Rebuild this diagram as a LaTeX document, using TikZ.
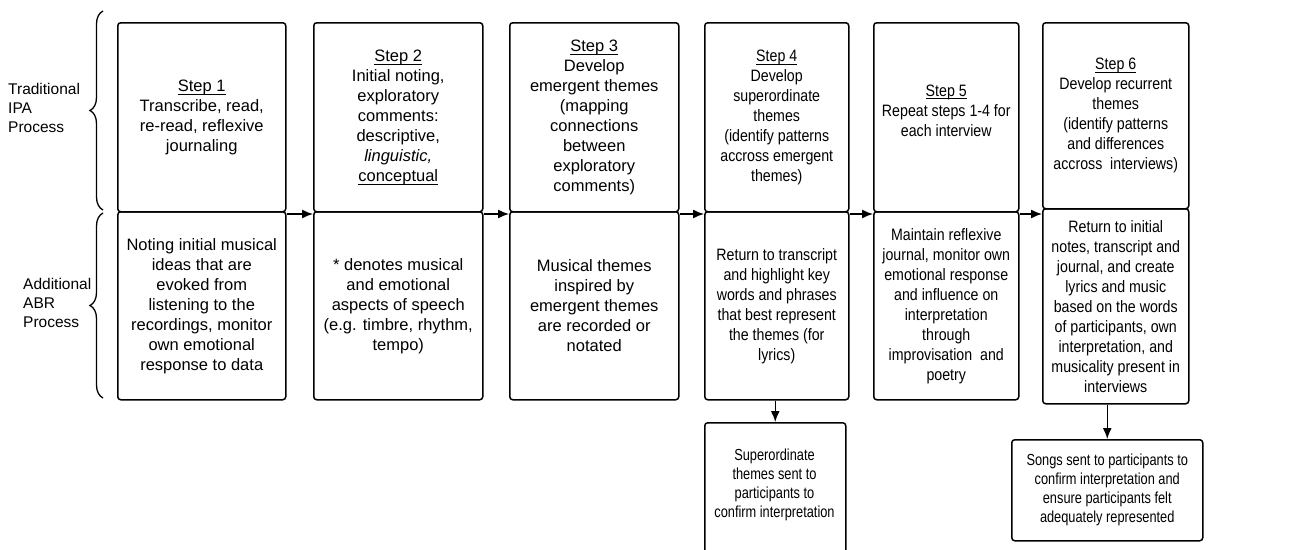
\documentclass[tikz,border=0pt]{standalone}
\usepackage{fontspec}
\setmainfont{Liberation Sans}
\newfontfamily\nfont{Liberation Sans}[FakeStretch=0.86]
\newfontfamily\nnfont{Liberation Sans}[FakeStretch=0.8]
\usetikzlibrary{arrows.meta,decorations.pathreplacing,calc}
\newcommand{\uln}[1]{\leavevmode\setbox0\hbox{#1}\rlap{\rule[-3.3pt]{\wd0}{0.9pt}}\box0}
\begin{document}
\begin{tikzpicture}[x=1pt,y=-1pt,
  box/.style={draw, line width=1.5pt, rounded corners=3pt, align=center, inner sep=0pt, anchor=north west},
  wtxt/.style={font=\fontsize{16.5}{20}\selectfont},
  ntxt/.style={font=\nfont\fontsize{16.5}{20}\selectfont},
  etxt/.style={font=\nnfont\fontsize{16}{19}\selectfont, align=center},
  arr/.style={line width=1.4pt, -{Latex[length=11pt,width=9pt]}},
  brc/.style={decorate, decoration={brace, amplitude=13pt}, line width=1.3pt},
  lbl/.style={font=\fontsize{15.5}{19}\selectfont, align=left, anchor=west, inner sep=0pt}]
\useasboundingbox (0,0) rectangle (1296,549);

% side labels
\node[lbl] (l1) at (8,108) {Traditional\\IPA\\Process};
\node[lbl] (l2) at (23,303) {Additional\\ABR\\Process};
\draw[brc] (103,210) -- (103,11);
\draw[brc] (103,398) -- (103,213);

% top row
\node[box,wtxt,minimum width=168pt,minimum height=189pt] (t1) at (117,22)
  {\uln{Step 1}\\Transcribe, read,\\re-read, reflexive\\journaling};
\node[box,wtxt,minimum width=169pt,minimum height=189pt] (t2) at (313,22)
  {\uln{Step 2}\\Initial noting,\\exploratory\\comments:\\descriptive,\\\textit{linguistic,}\\\uln{conceptual}};
\node[box,wtxt,minimum width=169pt,minimum height=189pt] (t3) at (509,22)
  {\uln{Step 3}\\Develop\\emergent themes\\(mapping\\connections\\between\\exploratory\\comments)};
\node[box,ntxt,minimum width=144pt,minimum height=189pt] (t4) at (704,22)
  {\uln{Step 4}\\Develop\\superordinate\\themes\\(identify patterns\\accross emergent\\themes)};
\node[box,ntxt,minimum width=145pt,minimum height=189pt,text depth=14pt] (t5) at (873,22)
  {\uln{Step 5}\\Repeat steps 1-4 for\\each interview};
\node[box,ntxt,minimum width=146pt,minimum height=186pt] (t6) at (1042,22)
  {\uln{Step 6}\\Develop recurrent\\themes\\(identify patterns\\and differences\\accross\ \ interviews)};

% bottom row
\node[box,wtxt,minimum width=168pt,minimum height=188pt] (b1) at (117,211)
  {Noting initial musical\\ideas that are\\evoked from\\listening to the\\recordings, monitor\\own emotional\\response to data};
\node[box,wtxt,minimum width=169pt,minimum height=188pt] (b2) at (313,211)
  {* denotes musical\\and emotional\\aspects of speech\\(e.g. timbre, rhythm,\\tempo)};
\node[box,wtxt,minimum width=169pt,minimum height=188pt] (b3) at (509,211)
  {Musical themes\\inspired by\\emergent themes\\are recorded or\\notated};
\node[box,ntxt,minimum width=144pt,minimum height=188pt] (b4) at (704,211)
  {Return to transcript\\and highlight key\\words and phrases\\that best represent\\the themes (for\\lyrics)};
\node[box,ntxt,minimum width=145pt,minimum height=188pt] (b5) at (873,211)
  {Maintain reflexive\\journal, monitor own\\emotional response\\and influence on\\interpretation\\through\\improvisation\ \ and\\poetry};
\node[box,ntxt,minimum width=146pt,minimum height=195pt] (b6) at (1042,208)
  {Return to initial\\notes, transcript and\\journal, and create\\lyrics and music\\based on the words\\of participants, own\\interpretation, and\\musicality present in\\interviews};

% extra boxes
\node[box,minimum width=141pt,minimum height=150pt] (e4) at (704,422) {};
\node[etxt] (e4t) at (774.5,485) {Superordinate\\themes sent to\\participants to\\confirm interpretation};
\node[box,etxt,minimum width=191pt,minimum height=101pt] (e6) at (1011,439)
  {Songs sent to participants to\\confirm interpretation and\\ensure participants felt\\adequately represented};

% arrows
\draw[arr] ([yshift=-3pt]b1.north east) -- ([yshift=-3pt]b1.north east -| b2.west);
\draw[arr] ([yshift=-3pt]b2.north east) -- ([yshift=-3pt]b2.north east -| b3.west);
\draw[arr] ([yshift=-3pt]b3.north east) -- ([yshift=-3pt]b3.north east -| b4.west);
\draw[arr] ([yshift=-3pt]b4.north east) -- ([yshift=-3pt]b4.north east -| b5.west);
\draw[arr] ([yshift=-3pt]b5.north east) -- ([yshift=-3pt]b5.north east -| b6.west);
\draw[arr] (b4.south -| e4.north) -- (e4.north);
\draw[arr] (b6.south -| e6.north) -- (e6.north);
\end{tikzpicture}
\end{document}
